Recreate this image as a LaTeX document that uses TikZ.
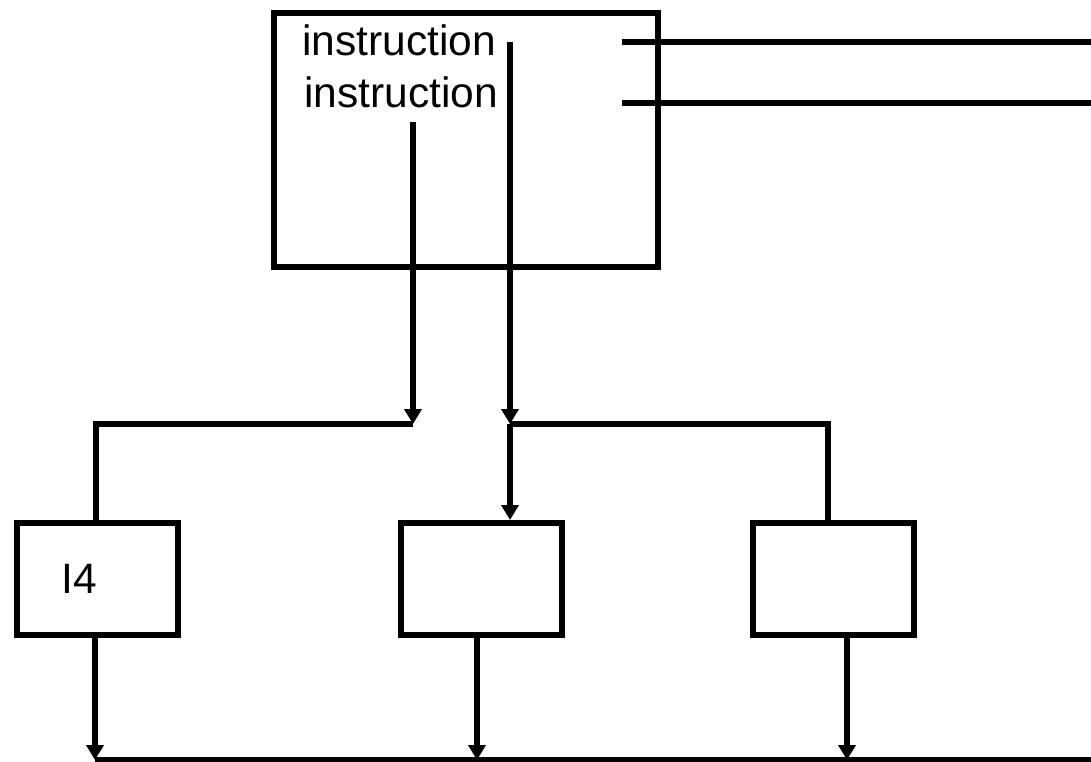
\documentclass[tikz,border=0pt]{standalone}
\usepackage{fontspec}
\setmainfont{Liberation Sans}
\usetikzlibrary{arrows.meta}
\begin{document}
\begin{tikzpicture}[x=1pt,y=-1pt,
  box/.style={draw,line width=6pt,inner sep=0pt,anchor=north west},
  wire/.style={line width=5.5pt},
  arr/.style={wire,-{Triangle[width=17pt,length=15pt]}},
  lbl/.style={font=\fontsize{42.5}{48}\selectfont,inner sep=0pt}]
\useasboundingbox (0,0) rectangle (1091,762);
% boxes
\node[box,minimum width=384pt,minimum height=254pt] (top) at (271,10) {};
\node[box,minimum width=161pt,minimum height=112pt] (b1) at (14,520) {};
\node[box,minimum width=161pt,minimum height=112pt] (b2) at (398,520) {};
\node[box,minimum width=161pt,minimum height=112pt] (b3) at (750,520) {};
% texts
\node[lbl,anchor=base] (t1) at (399,56) {instruction};
\node[lbl,anchor=base] (t2) at (401,108) {instruction};
\node[lbl] (i4) at (79,579) {I4};
% coordinates
\coordinate (s1) at (510,42);
\coordinate (s2) at (413,122);
\coordinate (j1) at (510,424);
\coordinate (j2) at (413,424);
\coordinate (o1) at (622,42);
\coordinate (o2) at (622,103);
\coordinate (e1) at (1091,42);
\coordinate (e2) at (1091,103);
\coordinate (bl) at (95,760);
\coordinate (br) at (1091,760);
% outputs to the right
\draw[wire] (o1) -- (e1);
\draw[wire] (o2) -- (e2);
% connectors
\draw[arr] (s2) -- (j2);
\draw[wire] (j2) -- (96,424) -- (b1.north -| 96,0);
\draw[arr] (s1) -- (j1);
\draw[arr] (j1) -- (b2.north -| j1);
\draw[wire] (j1) -- (828,424) -- (b3.north -| 828,0);
% bottom bus
\draw[wire] (bl) -- (br);
\draw[arr] (b1.south -| 95,0) -- (bl);
\draw[arr] (b2.south -| 477,0) -- (477,760);
\draw[arr] (b3.south -| 847,0) -- (847,760);
\end{tikzpicture}
\end{document}
